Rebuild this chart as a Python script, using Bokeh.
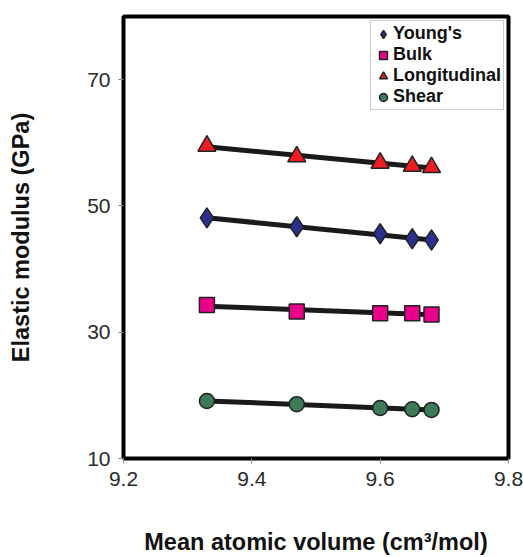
import numpy as np
from bokeh.plotting import figure
from bokeh.models import Legend, LegendItem, FixedTicker, Range1d
from bokeh.embed import file_html
from bokeh.resources import INLINE

volume = [9.33, 9.47, 9.60, 9.65, 9.68]
youngs = [48.1, 46.7, 45.6, 44.8, 44.6]
bulk = [34.3, 33.3, 33.0, 33.0, 32.8]
longitudinal = [59.5, 57.8, 56.8, 56.3, 56.1]
shear = [19.1, 18.6, 18.0, 17.8, 17.7]

x_ticks = [9.2, 9.4, 9.6, 9.8]
y_ticks = [10, 30, 50, 70]

p = figure(width=523, height=557, output_backend="svg", toolbar_location=None,
           x_range=Range1d(9.2, 9.8), y_range=Range1d(10, 80),
           min_border_left=123, min_border_right=15, min_border_top=16, min_border_bottom=98)

p.outline_line_color = "black"
p.outline_line_width = 4
p.xgrid.visible = False
p.ygrid.visible = False
p.background_fill_color = "white"
p.border_fill_color = "white"

for ax in (p.xaxis[0], p.yaxis[0]):
    ax.axis_line_color = None
    ax.major_tick_line_color = "#888888"
    ax.major_tick_out = 5
    ax.major_tick_in = 0
    ax.minor_tick_line_color = None
    ax.major_label_text_font = "Liberation Sans"
    ax.major_label_text_font_size = "21px"
    ax.major_label_text_color = "#2a2a2a"
    ax.axis_label_text_font = "Liberation Sans"
    ax.axis_label_text_font_style = "bold"
    ax.axis_label_text_font_size = "23.5px"
    ax.axis_label_text_color = "#111111"

p.xaxis.ticker = FixedTicker(ticks=x_ticks)
p.yaxis.ticker = FixedTicker(ticks=y_ticks)
p.xaxis.major_label_standoff = 8
p.yaxis.major_label_standoff = 8
p.xaxis.axis_label = "Mean atomic volume (cm³/mol)"
p.yaxis.axis_label = "Elastic modulus (GPa)"
p.xaxis.axis_label_standoff = 40
p.yaxis.axis_label_standoff = 50

series = [
    ("Young's", youngs, "diamond", "#2b2f8f", 20),
    ("Bulk", bulk, "square", "#e8008a", 15),
    ("Longitudinal", longitudinal, "triangle", "#ee1d23", 18),
    ("Shear", shear, "circle", "#3d7a58", 15),
]

xs = np.array(volume)
items = []
for name, vals, marker, color, size in series:
    m, b = np.polyfit(xs, np.array(vals), 1)
    xl = [volume[0], volume[-1]]
    p.line(xl, [m * xl[0] + b, m * xl[1] + b], line_color="#1a1a1a", line_width=5)
for name, vals, marker, color, size in series:
    r = p.scatter(volume, vals, marker=marker, size=size, fill_color=color,
                  line_color="#222222", line_width=1.5)
    items.append(LegendItem(label=name, renderers=[r]))

legend = Legend(items=items, location="top_right")
legend.label_text_font = "Liberation Sans"
legend.label_text_font_style = "bold"
legend.label_text_font_size = "18px"
legend.label_text_color = "#111111"
legend.border_line_color = "#999999"
legend.border_line_width = 1
legend.background_fill_alpha = 1
legend.glyph_width = 20
legend.glyph_height = 20
legend.label_height = 16
legend.spacing = 0
legend.padding = 2
legend.margin = 4
legend.label_standoff = 0
p.add_layout(legend)

open("out.html", "w").write(file_html(p, INLINE))
